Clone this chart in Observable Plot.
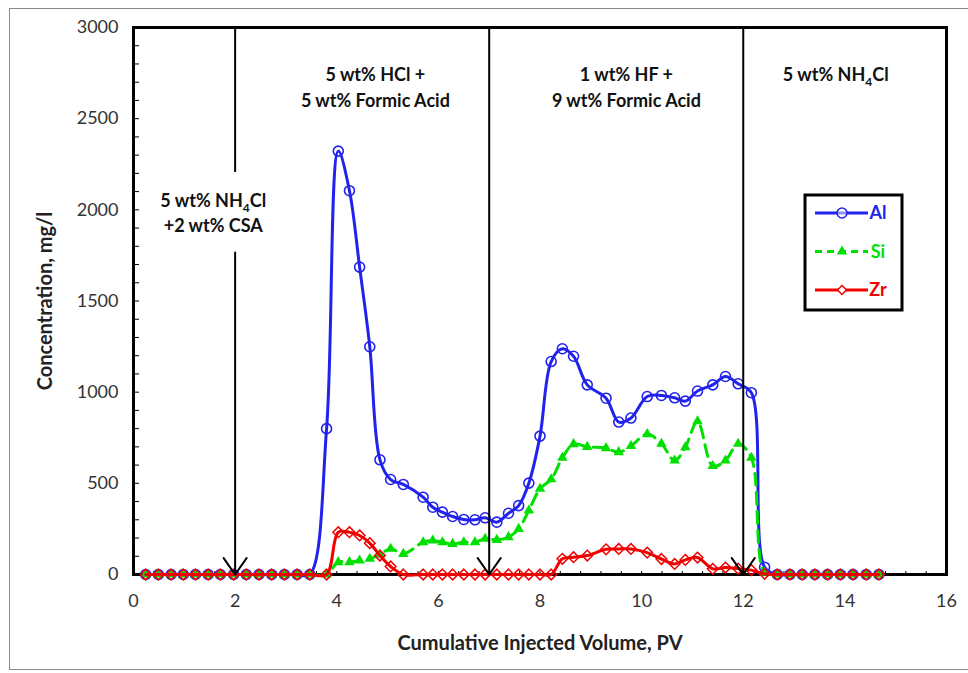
<!DOCTYPE html>
<html><head><meta charset="utf-8">
<script src="https://cdn.jsdelivr.net/npm/d3@7"></script>
<script src="https://cdn.jsdelivr.net/npm/@observablehq/plot@0.6"></script>
<style>
body{margin:0;background:#fff;font-family:Lato,sans-serif;}
#wrap{position:relative;width:968px;height:673px;overflow:hidden;}
#border{position:absolute;left:9px;top:8px;width:1000px;height:662px;border:1.5px solid #8a8a8a;box-sizing:border-box;}
#chart{position:absolute;left:0;top:0;}
</style></head><body>
<div id="wrap"><div id="border"></div><div id="chart"></div></div>
<script>
// ---- data ----
const cumulativePV = [0.24,0.49,0.74,0.98,1.22,1.47,1.71,1.97,2.22,2.47,2.72,2.97,3.22,3.47,
  3.8,4.03,4.25,4.45,4.65,4.85,5.06,5.31,
  5.7,5.89,6.08,6.28,6.5,6.72,6.92,
  7.15,7.38,7.58,7.78,8.0,8.22,8.44,8.66,8.93,
  9.3,9.55,9.79,10.11,10.39,10.65,10.86,11.1,11.4,11.65,11.9,12.16,12.42,
  12.67,12.92,13.16,13.41,13.66,13.91,14.16,14.42,14.67];
const alValues = [0,0,0,0,0,0,0,0,0,0,0,0,0,0,
  800,2322,2105,1686,1249,629,521,494,
  424,369,342,318,302,300,311,
  287,336,378,501,759,1168,1238,1197,1040,
  967,836,858,976,982,969,951,1006,1040,1086,1046,997,40,
  0,0,0,0,0,0,0,0,0];
const siValues = [0,0,0,0,0,0,0,0,0,0,0,0,0,0,
  0,68,68,77,86,110,141,113,
  177,186,177,168,177,177,196,
  190,205,250,351,470,522,640,715,700,
  693,671,705,770,717,625,698,840,595,625,717,640,10,
  0,0,0,0,0,0,0,0,0];
const zrValues = [0,0,0,0,0,0,0,0,0,0,0,0,0,0,
  0,232,232,214,172,104,44,0,
  0,0,0,0,0,0,0,
  0,0,0,0,0,0,86,95,104,
  138,140,140,120,85,58,80,93,31,38,32,24,4,
  0,0,0,0,0,0,0,0,0];
const seriesNames = ["Al","Si","Zr"];
const seriesColors = ["#2222ee","#00e000","#f00000"];
const xTickValues = [0,2,4,6,8,10,12,14,16];
const yTickValues = [0,500,1000,1500,2000,2500,3000];
const xMinorTicks = d3.range(0, 16.001, 0.4);
const yMinorTicks = d3.range(0, 3001, 100);
const stageBoundaries = [2,7,12];
const stageLabelText = ["5 wt% HCl +","5 wt% Formic Acid","1 wt% HF +","9 wt% Formic Acid","5 wt% NH4Cl","5 wt% NH4Cl","+2 wt% CSA"];
const stageLabelX = [4.76,4.76,9.7,9.7,13.82,1.57,1.57];
const stageLabelY = [2737,2595,2737,2595,2737,2046,1909];
// line at x=2 is interrupted around its label
const breakTop = 2205, breakBottom = 1766;

// ---- tables built from the arrays ----
const rows = cumulativePV.map((x,i)=>({x, Al: alValues[i], Si: siValues[i], Zr: zrValues[i]}));
const labels = stageLabelText.map((t,i)=>({text:t, x:stageLabelX[i], y:stageLabelY[i]}));
const arrowSegs = stageBoundaries.map(b => ({x:b, y1: b === 2 ? breakBottom : 3000, y2: 0}));
const topSegs = [{x:2, y1:3000, y2:breakTop}];

const font = "Lato, 'Open Sans', sans-serif";
const plot = Plot.plot({
  width: 968, height: 673,
  marginLeft: 133, marginRight: 22, marginTop: 27, marginBottom: 99,
  x: {domain: [0,16]},
  y: {domain: [0,3000]},
  style: {fontFamily: font, background: "transparent", overflow: "visible"},
  marks: [
    Plot.frame({stroke: "#000", strokeWidth: 3}),
    Plot.axisY({anchor: "right", frameAnchor: "left", ticks: yMinorTicks, tickSize: 5, tickFormat: () => "", label: null, stroke: "#000"}),
    Plot.axisX({anchor: "top", frameAnchor: "bottom", ticks: xMinorTicks, tickSize: 4, tickFormat: () => "", label: null, stroke: "#000"}),
    Plot.axisY({ticks: yTickValues, tickSize: 0, tickPadding: 15, label: null, fontSize: 18, color: "#333", tickFormat: d => String(d)}),
    Plot.axisX({ticks: xTickValues, tickSize: 0, tickPadding: 20, label: null, fontSize: 18, color: "#333", tickFormat: d => String(d)}),
    Plot.text(["Cumulative Injected Volume, PV"], {frameAnchor: "bottom", textAnchor: "middle", lineAnchor: "middle", dy: 69, fontSize: 20, fontWeight: "bold", fill: "#222"}),
    Plot.text(["Concentration, mg/l"], {frameAnchor: "left", textAnchor: "middle", lineAnchor: "middle", rotate: -90, dx: -88, fontSize: 20, fontWeight: "bold", fill: "#222"}),
    // Al
    Plot.line(rows, {x: "x", y: "Al", stroke: seriesColors[0], strokeWidth: 3, curve: "catmull-rom"}),
    Plot.dot(rows, {x: "x", y: "Al", symbol: "circle", r: 5, stroke: seriesColors[0], strokeWidth: 1.6, fill: "none"}),
    // Si
    Plot.line(rows, {x: "x", y: "Si", stroke: seriesColors[1], strokeWidth: 3, strokeDasharray: "12,7", curve: "catmull-rom"}),
    Plot.dot(rows, {x: "x", y: "Si", symbol: "triangle", r: 3.9, fill: seriesColors[1], stroke: "none"}),
    // Zr
    Plot.line(rows, {x: "x", y: "Zr", stroke: seriesColors[2], strokeWidth: 3, curve: "catmull-rom"}),
    Plot.dot(rows, {x: "x", y: "Zr", symbol: "diamond2", r: 4.8, stroke: seriesColors[2], strokeWidth: 1.5, fill: "none"}),
    // stage boundaries
    Plot.ruleX(topSegs, {x: "x", y1: "y1", y2: "y2", stroke: "#000", strokeWidth: 2}),
    Plot.arrow(arrowSegs, {x: "x", y1: "y1", y2: "y2", stroke: "#000", strokeWidth: 2, headAngle: 70, headLength: 15}),
    Plot.text(labels, {x: "x", y: "y", text: "text", fontSize: 18, fontWeight: "bold", fill: "#111"})
  ]
});
document.getElementById("chart").appendChild(plot);

// subscript 4 in NH4Cl
d3.select(plot).selectAll("text").each(function(){
  const t = this.textContent;
  if (this.childElementCount === 0 && t.includes("NH4Cl")) {
    const [a,b] = t.split("NH4Cl");
    const el = d3.select(this);
    el.text(null);
    el.append("tspan").text(a + "NH");
    el.append("tspan").attr("dy", 5).attr("font-size", 12).text("4");
    el.append("tspan").attr("dy", -5).text("Cl" + b);
  }
});

// legend (inside the plot area, upper right)
const lg = d3.select(plot).append("g").attr("font-family", font);
const box = {x: 805, y: 195, w: 97, h: 115};
lg.append("rect").attr("x", box.x).attr("y", box.y).attr("width", box.w).attr("height", box.h)
  .attr("fill", "#fff").attr("stroke", "#000").attr("stroke-width", 3);
const symbolTypes = [d3.symbolCircle, d3.symbolTriangle, d3.symbolDiamond2];
seriesNames.forEach((name, i) => {
  const cy = box.y + 18 + i * 38.5;
  const c = seriesColors[i];
  lg.append("line").attr("x1", box.x + 10).attr("x2", box.x + 63).attr("y1", cy).attr("y2", cy)
    .attr("stroke", c).attr("stroke-width", 3).attr("stroke-dasharray", i === 1 ? "7,5" : null);
  const sym = lg.append("path").attr("transform", `translate(${box.x + 37},${cy})`);
  if (i === 0) sym.attr("d", d3.symbol(symbolTypes[i], Math.PI * 25)()).attr("fill", "#fff").attr("fill-opacity", 0.5).attr("stroke", c).attr("stroke-width", 1.5);
  if (i === 1) sym.attr("d", d3.symbol(symbolTypes[i], Math.PI * 3.9 * 3.9)()).attr("fill", c);
  if (i === 2) sym.attr("d", d3.symbol(symbolTypes[i], Math.PI * 16)()).attr("fill", "#fff").attr("stroke", c).attr("stroke-width", 1.5);
  lg.append("text").attr("x", box.x + 73).attr("y", cy).attr("dy", "0.35em")
    .attr("font-size", 18).attr("font-weight", "bold").attr("fill", c).text(name);
});
</script>
</body></html>
